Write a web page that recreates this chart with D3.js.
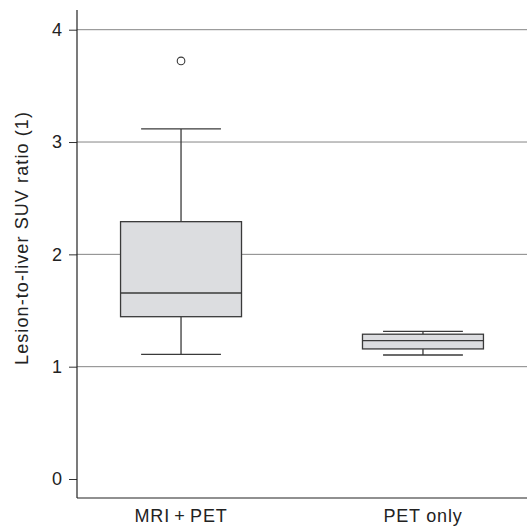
<!DOCTYPE html>
<html>
<head>
<meta charset="utf-8">
<title>Lesion-to-liver SUV ratio</title>
<script src="https://d3js.org/d3.v7.min.js"></script>
<style>
  body { margin: 0; background: #fff; }
  text { font-family: "Liberation Sans", Arial, sans-serif; fill: #222; }
</style>
</head>
<body>
<svg id="chart" width="527" height="527"></svg>
<script>
// box plot summary values
var groups = ["MRI+PET", "PET only"];
var groupLabels = ["MRI\u2009+\u2009PET", "PET only"];
var whiskerLo = [1.110, 1.104];
var q1 = [1.445, 1.158];
var median = [1.656, 1.232];
var q3 = [2.291, 1.289];
var whiskerHi = [3.117, 1.315];
var outliers = [[3.722], []];
var yTicks = [0, 1, 2, 3, 4];

var svg = d3.select("#chart");

var left = 77, right = 527, axisBottom = 498;

var x = d3.scalePoint()
  .domain(groups)
  .range([left, right])
  .padding(0.43);

var y = d3.scaleLinear()
  .domain([0, 4])
  .range([479, 29.7]);

var step = x.step();
var boxW = step * 0.5;
var capW = step * 0.33;

// grid lines
svg.append("g")
  .selectAll("line")
  .data(yTicks.slice(1))
  .enter()
  .append("line")
  .attr("x1", left)
  .attr("x2", right)
  .attr("y1", d => y(d))
  .attr("y2", d => y(d))
  .attr("stroke", "#858585")
  .attr("stroke-width", 1);

// y axis
var yAxis = svg.append("g")
  .attr("transform", "translate(" + left + ",0)")
  .call(d3.axisLeft(y).tickValues(yTicks).tickSize(8).tickPadding(7).tickFormat(d3.format("d")));
yAxis.select(".domain").remove();
yAxis.selectAll(".tick line").attr("stroke", "#333");
yAxis.selectAll(".tick text")
  .style("font-family", "Liberation Sans, Arial, sans-serif")
  .style("font-size", "18px")
  .attr("fill", "#222");

// axis lines
svg.append("line")
  .attr("x1", left).attr("x2", left)
  .attr("y1", 10).attr("y2", axisBottom)
  .attr("stroke", "#222").attr("stroke-width", 1.2);
svg.append("line")
  .attr("x1", left).attr("x2", right)
  .attr("y1", axisBottom).attr("y2", axisBottom)
  .attr("stroke", "#222").attr("stroke-width", 1.2);

// x labels
svg.append("g")
  .selectAll("text")
  .data(groups)
  .enter()
  .append("text")
  .attr("x", d => x(d))
  .attr("y", 522)
  .attr("text-anchor", "middle")
  .style("font-size", "18px")
  .style("letter-spacing", "0.8px")
  .text((d, i) => groupLabels[i]);

// y title
svg.append("text")
  .attr("transform", "translate(28,238) rotate(-90)")
  .attr("text-anchor", "middle")
  .style("font-size", "18px")
  .style("letter-spacing", "1.1px")
  .text("Lesion-to-liver SUV ratio (1)");

// boxes
var boxes = svg.append("g")
  .selectAll("g")
  .data(groups)
  .enter()
  .append("g");

var stroke = "#3a3a3a";

// whisker stems
boxes.append("line")
  .attr("x1", d => x(d)).attr("x2", d => x(d))
  .attr("y1", (d, i) => y(whiskerHi[i]))
  .attr("y2", (d, i) => y(q3[i]))
  .attr("stroke", stroke).attr("stroke-width", 1.3);
boxes.append("line")
  .attr("x1", d => x(d)).attr("x2", d => x(d))
  .attr("y1", (d, i) => y(q1[i]))
  .attr("y2", (d, i) => y(whiskerLo[i]))
  .attr("stroke", stroke).attr("stroke-width", 1.3);

// caps
boxes.append("line")
  .attr("x1", d => x(d) - capW / 2).attr("x2", d => x(d) + capW / 2)
  .attr("y1", (d, i) => y(whiskerHi[i])).attr("y2", (d, i) => y(whiskerHi[i]))
  .attr("stroke", stroke).attr("stroke-width", 1.3);
boxes.append("line")
  .attr("x1", d => x(d) - capW / 2).attr("x2", d => x(d) + capW / 2)
  .attr("y1", (d, i) => y(whiskerLo[i])).attr("y2", (d, i) => y(whiskerLo[i]))
  .attr("stroke", stroke).attr("stroke-width", 1.3);

// box
boxes.append("rect")
  .attr("x", d => x(d) - boxW / 2)
  .attr("width", boxW)
  .attr("y", (d, i) => y(q3[i]))
  .attr("height", (d, i) => y(q1[i]) - y(q3[i]))
  .attr("fill", "#dcdde0")
  .attr("stroke", stroke).attr("stroke-width", 1.3);

// median
boxes.append("line")
  .attr("x1", d => x(d) - boxW / 2).attr("x2", d => x(d) + boxW / 2)
  .attr("y1", (d, i) => y(median[i])).attr("y2", (d, i) => y(median[i]))
  .attr("stroke", stroke).attr("stroke-width", 1.3);

// outliers
boxes.each(function(d, i) {
  d3.select(this).selectAll("circle")
    .data(outliers[i])
    .enter()
    .append("circle")
    .attr("cx", x(d))
    .attr("cy", v => y(v))
    .attr("r", 3.8)
    .attr("fill", "none")
    .attr("stroke", stroke)
    .attr("stroke-width", 1.1);
});
</script>
</body>
</html>
